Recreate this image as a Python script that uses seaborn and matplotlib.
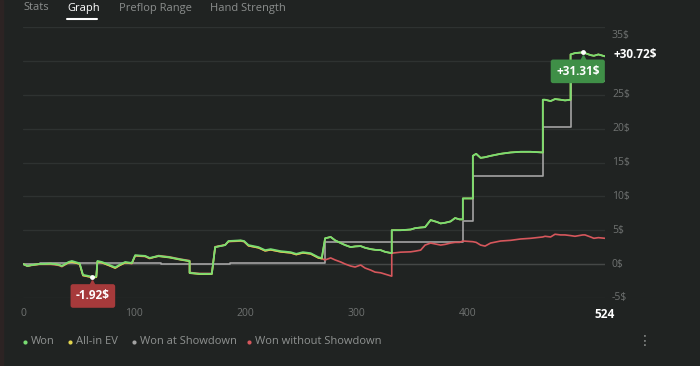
import matplotlib
matplotlib.use("Agg")
import matplotlib.pyplot as plt
import matplotlib.transforms as mtransforms
from matplotlib.lines import Line2D
from matplotlib.patches import Rectangle
import seaborn as sns

# hand number -> cumulative result ($)
hands = [0, 4, 8, 15, 25, 32, 35, 41, 44, 51,
         54, 60, 62, 66, 67, 71, 78, 83, 87, 92,
         98, 101, 110, 114, 122, 132, 141, 150, 150, 159,
         170, 173, 182, 185, 196, 199, 203, 212, 218, 223,
         232, 241, 246, 252, 259, 266, 269, 272, 277, 281,
         286, 290, 295, 299, 304, 308, 313, 317, 322, 326,
         332, 332, 340, 349, 353, 358, 362, 367, 373, 376,
         380, 385, 389, 393, 396, 396, 405, 405, 408, 412,
         416, 421, 430, 439, 448, 457, 468, 468, 470, 475,
         479, 484, 488, 493, 493, 497, 504, 506, 511, 514,
         518, 524]

won = [0, -0.3, -0.15, 0, 0.05, -0.1, -0.3, 0.3, 0.45, 0.1,
       -1.6, -1.8, -1.92, -1.85, 0.45, 0.3, -0.15, -0.5, -0.1, 0.3,
       0.15, 1.3, 1.2, 0.9, 1.2, 1.0, 0.7, 0.45, -1.3, -1.45,
       -1.45, 2.5, 2.8, 3.4, 3.5, 3.4, 2.8, 2.5, 2.05, 2.2,
       1.9, 1.75, 1.5, 1.75, 1.6, 1.0, 0.9, 3.8, 4.0, 3.5,
       3.1, 2.8, 2.5, 2.6, 2.65, 2.4, 2.2, 2.1, 2.05, 1.8,
       1.6, 5.0, 5.0, 5.1, 5.3, 5.4, 5.45, 6.5, 6.2, 6.0,
       6.1, 6.3, 6.8, 6.6, 6.6, 9.7, 9.7, 16.0, 16.3, 15.7,
       15.8, 16.0, 16.3, 16.5, 16.6, 16.6, 16.5, 24.3, 24.3, 24.1,
       24.4, 24.3, 24.2, 24.3, 31.0, 31.2, 31.31, 31.2, 30.9, 30.8,
       31.0, 30.72]

allin_ev = [0, -0.3, -0.15, 0, 0.05, -0.1, -0.3, 0.2, 0.3, 0.0,
            -1.7, -1.9, -2.0, -1.95, 0.35, 0.2, -0.25, -0.6, -0.2, 0.2,
            0.1, 1.25, 1.15, 0.85, 1.15, 0.95, 0.65, 0.4, -1.35, -1.5,
            -1.5, 2.5, 2.8, 3.35, 3.45, 3.35, 2.7, 2.4, 1.95, 2.1,
            1.8, 1.65, 1.4, 1.65, 1.5, 0.9, 0.8, 3.8, 4.0, 3.5,
            3.1, 2.8, 2.5, 2.6, 2.65, 2.4, 2.2, 2.1, 2.05, 1.8,
            1.6, 5.0, 5.0, 5.1, 5.3, 5.4, 5.45, 6.5, 6.2, 6.0,
            6.1, 6.3, 6.8, 6.6, 6.6, 9.7, 9.7, 16.0, 16.3, 15.7,
            15.8, 16.0, 16.3, 16.5, 16.6, 16.6, 16.5, 24.3, 24.3, 24.1,
            24.4, 24.3, 24.2, 24.3, 31.0, 31.2, 31.31, 31.2, 30.9, 30.8,
            31.0, 30.72]

no_showdown = [0, -0.3, -0.2, -0.05, -0.05, -0.2, -0.4, 0.2, 0.35, 0.0,
               -1.7, -1.9, -2.0, -1.95, 0.35, 0.2, -0.25, -0.6, -0.2, 0.2,
               0.05, 1.2, 1.1, 0.8, 1.25, 1.05, 0.75, 0.5, -1.25, -1.4,
               -1.4, 2.55, 2.85, 3.3, 3.4, 3.3, 2.7, 2.4, 1.95, 2.1,
               1.8, 1.65, 1.4, 1.65, 1.5, 0.9, 0.8, 0.6, 0.9, 0.6,
               0.3, 0.0, -0.3, -0.45, -0.15, -0.6, -0.9, -1.2, -1.3, -1.5,
               -1.8, 1.6, 1.75, 1.8, 1.9, 2.05, 2.8, 3.1, 2.9, 2.8,
               2.9, 3.1, 3.2, 3.2, 3.4, 3.4, 3.3, 3.3, 3.2, 2.8,
               2.65, 3.1, 3.4, 3.5, 3.7, 3.8, 4.0, 4.0, 4.1, 4.0,
               4.4, 4.3, 4.3, 4.2, 4.2, 4.1, 4.3, 4.3, 4.0, 3.8,
               3.9, 3.8]

sd_hands = [0, 15, 15, 124, 124, 186, 186, 272, 272, 396, 396, 405, 405, 468, 468, 493, 493, 524]
showdown = [0, 0, 0.1, 0.1, -0.05, -0.05, 0.1, 0.1, 3.2, 3.2, 6.3, 6.3, 13.0, 13.0, 20.3, 20.3, 27.0, 27.0]

y_ticks = [-5, 0, 5, 10, 15, 20, 25, 30, 35]
y_labels = ["-5$", "0$", "5$", "10$", "15$", "20$", "25$", "", "35$"]
x_ticks = [0, 100, 200, 300, 400, 524]
tabs = ["Stats", "Graph", "Preflop Range", "Hand Strength"]
legend_names = ["Won", "All-in EV", "Won at Showdown", "Won without Showdown"]

BG = "#202322"
GREEN = "#78dc72"
YELLOW = "#e3d54e"
GREY = "#a3a3a3"
RED = "#d6575c"
DIM = "#6f7271"

sns.set_style("dark")
plt.rcParams["font.family"] = ["Open Sans", "DejaVu Sans"]

fig = plt.figure(figsize=(7, 3.66), dpi=100, facecolor=BG)
fig.patches.append(Rectangle((0, 0), 3 / 700, 1, transform=fig.transFigure, color="#2c2323"))
ax = fig.add_axes([23 / 700, (366 - 297.8) / 366, 582 / 700, 270.4 / 366])
ax.set_facecolor(BG)

sns.lineplot(x=sd_hands, y=showdown, estimator=None, sort=False, color=GREY, lw=1.2, ax=ax, zorder=3)
sns.lineplot(x=hands, y=no_showdown, estimator=None, sort=False, color=RED, lw=1.2, ax=ax, zorder=4)
sns.lineplot(x=hands, y=allin_ev, estimator=None, sort=False, color=YELLOW, lw=1.2, ax=ax, zorder=5)
sns.lineplot(x=hands, y=won, estimator=None, sort=False, color=GREEN, lw=1.3, ax=ax, zorder=6)

ax.set_xlim(0, 524)
ax.set_ylim(-5, 35)
for s in ax.spines.values():
    s.set_visible(False)
ax.set_yticks(y_ticks)
ax.set_yticklabels([])
ax.grid(axis="y", color="#2e3231", lw=1)
ax.grid(axis="x", visible=False)
ax.axhline(0, color="#454847", lw=1, zorder=1)
ax.tick_params(axis="y", length=0)

ax.set_xticks(x_ticks)
ax.set_xticklabels([str(t) for t in x_ticks])
ax.tick_params(axis="x", length=0, pad=7.5, labelsize=7.5, labelcolor=DIM)
last = ax.get_xticklabels()[-1]
last.set_color("white")
last.set_fontweight("bold")
last.set_fontsize(8.5)

for v, lab in zip(y_ticks, y_labels):
    dy = -8 if v == 35 else 0
    tr = mtransforms.offset_copy(ax.get_yaxis_transform(), fig, x=7, y=dy, units="dots")
    ax.text(1, v, lab, transform=tr, ha="left", va="center", fontsize=7.5, color=DIM, clip_on=False)

# end value, max and min callouts
ax.annotate("+30.72$", xy=(hands[-1], won[-1]), xytext=(8, 2), textcoords="offset pixels",
            ha="left", va="center", color="white", fontsize=8.5, fontweight="bold", annotation_clip=False)

i_max = won.index(max(won))
i_min = won.index(min(won))
for i, txt, col, dx in [(i_max, "+31.31$", "#3f8f47", -5), (i_min, "-1.92$", "#a63a3b", 1)]:
    ax.annotate(txt, xy=(hands[i], won[i]), xytext=(dx, -19), textcoords="offset pixels",
                ha="center", va="center", color="white", fontsize=8.5, fontweight="bold",
                bbox=dict(boxstyle="round,pad=0.45,rounding_size=0.2", fc=col, ec="none"), zorder=8)
    tri = mtransforms.offset_copy(ax.transData, fig, x=0, y=-6, units="dots")
    ax.plot([hands[i]], [won[i]], marker="^", ms=5, color=col, transform=tri, zorder=8, clip_on=False)
    ax.plot([hands[i]], [won[i]], marker="o", ms=3.5, color="white", mec="none", zorder=9)

# top tabs
tab_x = [23, 67, 119, 210]
for name, x in zip(tabs, tab_x):
    fig.text(x / 700, 1 - 8 / 366, name, ha="left", va="center", fontsize=8,
             color="white" if name == "Graph" else "#8b8e8d")
fig.add_artist(Line2D([67 / 700, 97 / 700], [1 - 18.5 / 366] * 2, color="white", lw=1.5,
                      transform=fig.transFigure))

# legend
leg_colors = [GREEN, YELLOW, GREY, RED]
dot_x = [25, 70, 134, 249]
for name, c, x in zip(legend_names, leg_colors, dot_x):
    fig.add_artist(Line2D([x / 700], [1 - 342 / 366], marker="o", ms=3, color=c, mec="none",
                          transform=fig.transFigure))
    fig.text((x + 6) / 700, 1 - 342 / 366, name, ha="left", va="center", fontsize=8, color="#8f9291")
fig.text(645 / 700, 1 - 341 / 366, "\u22ee", ha="center", va="center", fontsize=10,
         color="#8f9291", family="DejaVu Sans")

fig.savefig("out.png", dpi=100, facecolor=BG)
